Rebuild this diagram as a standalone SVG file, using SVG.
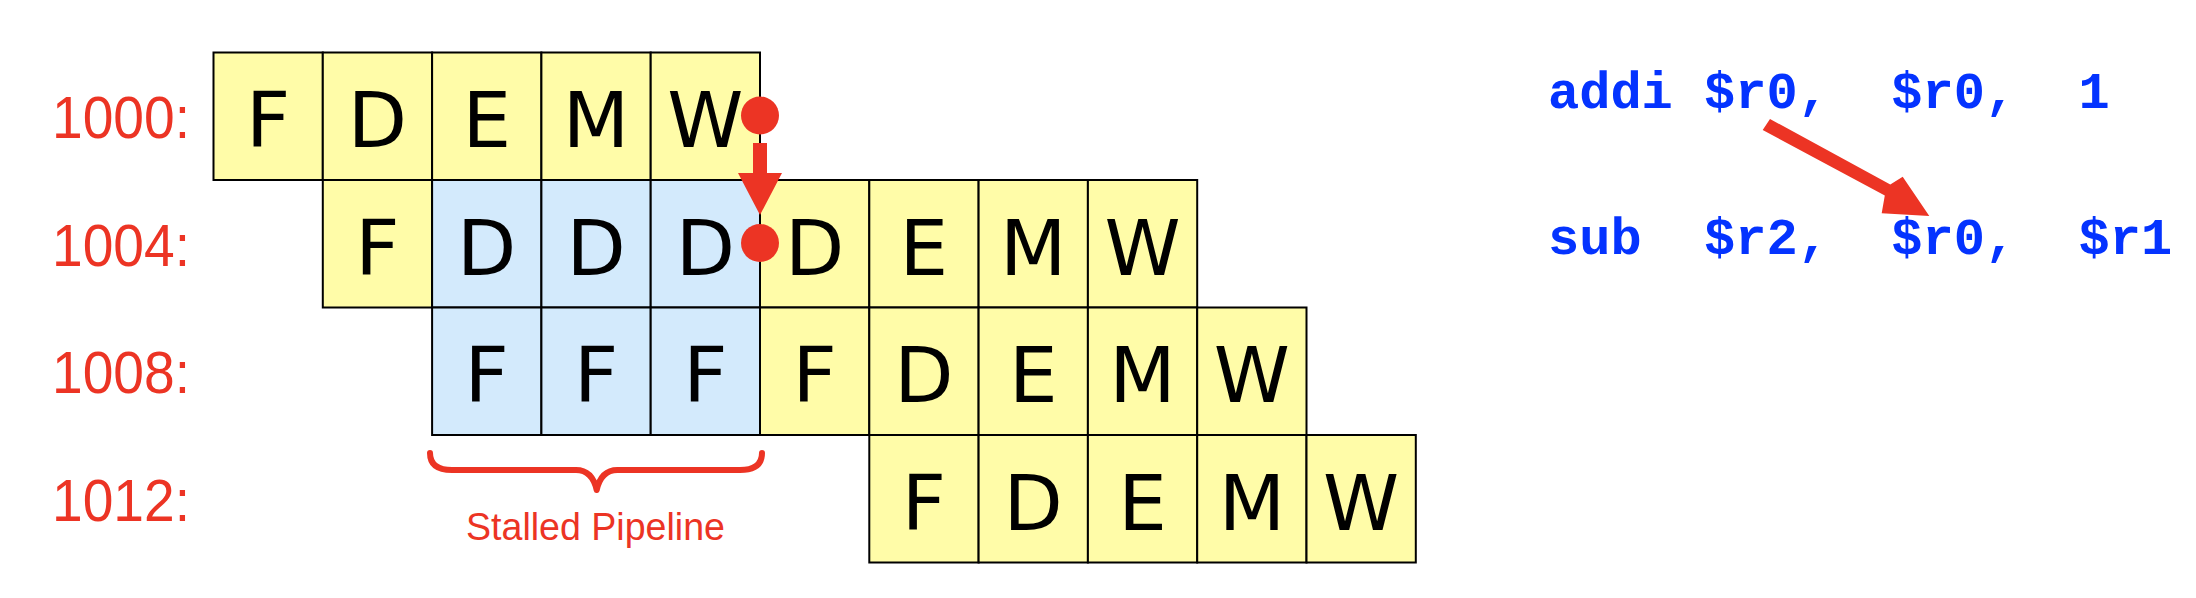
<svg xmlns="http://www.w3.org/2000/svg" width="2196" height="598" viewBox="0 0 2196 598">
<style>
.y{fill:#FFFCA8;stroke:#000;stroke-width:2}
.b{fill:#D3EAFC;stroke:#000;stroke-width:2}
.s{font-family:"DejaVu Sans",sans-serif;font-size:77px;fill:#000;text-anchor:middle}
.lbl{font-family:"Liberation Sans",Arial,sans-serif;font-size:60px;fill:#EC3424}
.code{font-family:"Liberation Mono","Courier New",monospace;font-weight:bold;font-size:52px;fill:#0433FF;white-space:pre}
.red{fill:#EC3424}
</style>
<rect width="2196" height="598" fill="#fff"/>
<g id="labels">
<text class="lbl" x="52" y="138" textLength="138" lengthAdjust="spacingAndGlyphs">1000:</text>
<text class="lbl" x="52" y="266" textLength="138" lengthAdjust="spacingAndGlyphs">1004:</text>
<text class="lbl" x="52" y="393" textLength="138" lengthAdjust="spacingAndGlyphs">1008:</text>
<text class="lbl" x="52" y="521" textLength="138" lengthAdjust="spacingAndGlyphs">1012:</text>
</g>
<g id="row1000">
<g id="i1000-F"><rect class="y" x="213.5" y="52.5" width="109.3" height="127.5"/><text class="s" x="268.15" y="147.25">F</text></g>
<g id="i1000-D"><rect class="y" x="322.8" y="52.5" width="109.3" height="127.5"/><text class="s" x="377.45" y="147.25">D</text></g>
<g id="i1000-E"><rect class="y" x="432.1" y="52.5" width="109.3" height="127.5"/><text class="s" x="486.75" y="147.25">E</text></g>
<g id="i1000-M"><rect class="y" x="541.4" y="52.5" width="109.3" height="127.5"/><text class="s" x="596.05" y="147.25">M</text></g>
<g id="i1000-W"><rect class="y" x="650.7" y="52.5" width="109.3" height="127.5"/><text class="s" x="705.35" y="147.25">W</text></g>
</g>
<g id="row1004">
<g id="i1004-F"><rect class="y" x="322.8" y="180" width="109.3" height="127.5"/><text class="s" x="377.45" y="274.75">F</text></g>
<g id="i1004-D1"><rect class="b" x="432.1" y="180" width="109.3" height="127.5"/><text class="s" x="486.75" y="274.75">D</text></g>
<g id="i1004-D2"><rect class="b" x="541.4" y="180" width="109.3" height="127.5"/><text class="s" x="596.05" y="274.75">D</text></g>
<g id="i1004-D3"><rect class="b" x="650.7" y="180" width="109.3" height="127.5"/><text class="s" x="705.35" y="274.75">D</text></g>
<g id="i1004-D"><rect class="y" x="760" y="180" width="109.3" height="127.5"/><text class="s" x="814.65" y="274.75">D</text></g>
<g id="i1004-E"><rect class="y" x="869.3" y="180" width="109.3" height="127.5"/><text class="s" x="923.95" y="274.75">E</text></g>
<g id="i1004-M"><rect class="y" x="978.6" y="180" width="109.3" height="127.5"/><text class="s" x="1033.25" y="274.75">M</text></g>
<g id="i1004-W"><rect class="y" x="1087.9" y="180" width="109.3" height="127.5"/><text class="s" x="1142.55" y="274.75">W</text></g>
</g>
<g id="row1008">
<g id="i1008-F1"><rect class="b" x="432.1" y="307.5" width="109.3" height="127.5"/><text class="s" x="486.75" y="402.25">F</text></g>
<g id="i1008-F2"><rect class="b" x="541.4" y="307.5" width="109.3" height="127.5"/><text class="s" x="596.05" y="402.25">F</text></g>
<g id="i1008-F3"><rect class="b" x="650.7" y="307.5" width="109.3" height="127.5"/><text class="s" x="705.35" y="402.25">F</text></g>
<g id="i1008-F"><rect class="y" x="760" y="307.5" width="109.3" height="127.5"/><text class="s" x="814.65" y="402.25">F</text></g>
<g id="i1008-D"><rect class="y" x="869.3" y="307.5" width="109.3" height="127.5"/><text class="s" x="923.95" y="402.25">D</text></g>
<g id="i1008-E"><rect class="y" x="978.6" y="307.5" width="109.3" height="127.5"/><text class="s" x="1033.25" y="402.25">E</text></g>
<g id="i1008-M"><rect class="y" x="1087.9" y="307.5" width="109.3" height="127.5"/><text class="s" x="1142.55" y="402.25">M</text></g>
<g id="i1008-W"><rect class="y" x="1197.2" y="307.5" width="109.3" height="127.5"/><text class="s" x="1251.85" y="402.25">W</text></g>
</g>
<g id="row1012">
<g id="i1012-F"><rect class="y" x="869.3" y="435" width="109.3" height="127.5"/><text class="s" x="923.95" y="529.75">F</text></g>
<g id="i1012-D"><rect class="y" x="978.6" y="435" width="109.3" height="127.5"/><text class="s" x="1033.25" y="529.75">D</text></g>
<g id="i1012-E"><rect class="y" x="1087.9" y="435" width="109.3" height="127.5"/><text class="s" x="1142.55" y="529.75">E</text></g>
<g id="i1012-M"><rect class="y" x="1197.2" y="435" width="109.3" height="127.5"/><text class="s" x="1251.85" y="529.75">M</text></g>
<g id="i1012-W"><rect class="y" x="1306.5" y="435" width="109.3" height="127.5"/><text class="s" x="1361.15" y="529.75">W</text></g>
</g>
<g id="stall-brace">
<path d="M430,453 C430,465 438,470 452,470 L576,470 C588,470 594,478 596.7,490 C599.4,478 605.4,470 617.4,470 L740,470 C754,470 762,465 762,453" fill="none" stroke="#EC3424" stroke-width="6" stroke-linecap="round" stroke-linejoin="round"/>
<text x="466" y="540" font-family="Liberation Sans, Arial, sans-serif" font-size="38" fill="#EC3424" textLength="259" lengthAdjust="spacingAndGlyphs">Stalled Pipeline</text>
</g>
<g id="code">
<text class="code" x="1548" y="108" xml:space="preserve">addi $r0,  $r0,  1</text>
<text class="code" x="1548" y="254" xml:space="preserve">sub  $r2,  $r0,  $r1</text>
</g>
<g id="connectors">
<circle class="red" cx="760" cy="115.5" r="19"/>
<circle class="red" cx="760" cy="243" r="19"/>
<polygon class="red" points="753,143 767,143 767,173 782,173 760,215 738,173 753,173"/>
<polygon class="red" points="1762.7,130 1770,119 1890.3,184.6 1902.7,176.7 1929.3,216 1881.7,213.3 1884.8,195.6"/>
</g>
</svg>
